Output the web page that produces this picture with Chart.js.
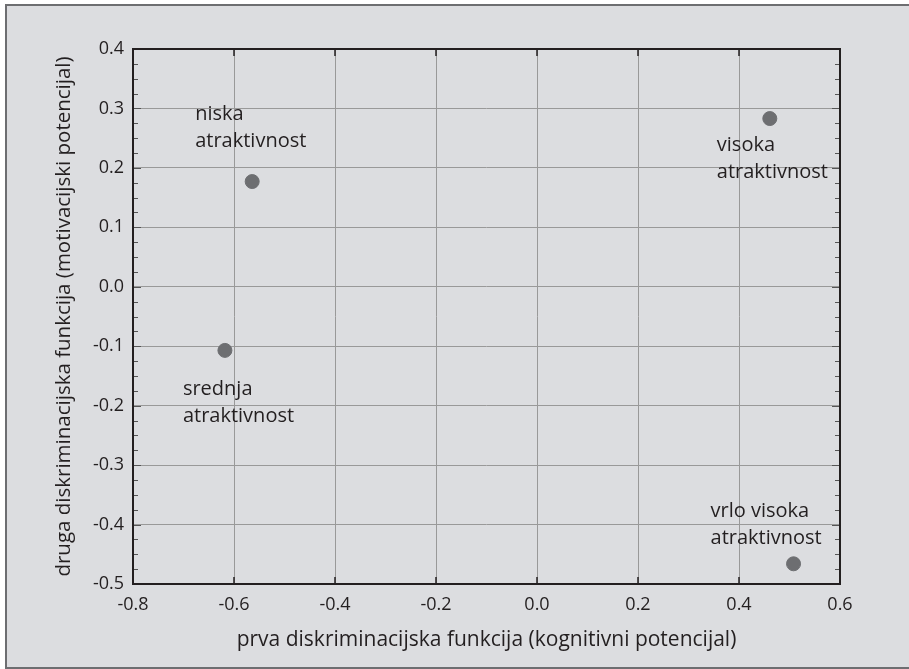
<!DOCTYPE html>
<html>
<head>
<meta charset="utf-8">
<script src="https://cdn.jsdelivr.net/npm/chart.js@4.4.1/dist/chart.umd.min.js"></script>
<style>
    html, body { margin: 0; background: #fff; overflow: hidden; }
    #clip { position: absolute; left: 0; top: 0; width: 909px; height: 669px; overflow: hidden; }
    #box { position: absolute; left: 5px; top: 4px; width: 1000px; height: 661px; border: 2px solid #6d6e71; background: #dcdde0; }
    #wrap { position: absolute; left: 0; top: 0; width: 909px; height: 669px; }
</style>
</head>
<body>
<div id="clip">
<div id="box"></div>
<div id="wrap"><canvas id="chart"></canvas></div>
</div>
<script>
var groups = [["niska", "atraktivnost"], ["visoka", "atraktivnost"], ["srednja", "atraktivnost"], ["vrlo visoka", "atraktivnost"]];
var xValues = [-0.564, 0.461, -0.618, 0.508];
var yValues = [0.177, 0.283, -0.107, -0.466];
var xTicks = [-0.8, -0.6, -0.4, -0.2, 0.0, 0.2, 0.4, 0.6];
var yTicks = [-0.5, -0.4, -0.3, -0.2, -0.1, 0.0, 0.1, 0.2, 0.3, 0.4];

var fontName = "'Open Sans', 'Noto Sans', sans-serif";
var textColor = '#231f20';

// label offsets from the point: [dx, baseline of first line]
var labelOffsets = [[-57, -62], [-53, 32], [-42, 45], [-83, -47]];

var frame = {
    id: 'frame',
    beforeDatasetsDraw: function (chart) {
        var ctx = chart.ctx;
        var a = chart.chartArea;
        var xs = chart.scales.x;
        var ys = chart.scales.y;
        ctx.save();
        ctx.strokeStyle = '#555';
        ctx.lineWidth = 1;
        // minor ticks on left/right
        for (var i = 0; i <= 36; i++) {
            var v = yTicks[0] + i * 0.025;
            var py = Math.round(ys.getPixelForValue(v)) + 0.5;
            var len = (i % 4 === 0) ? 8 : 5;
            ctx.beginPath();
            ctx.moveTo(a.left, py); ctx.lineTo(a.left + len, py);
            ctx.moveTo(a.right, py); ctx.lineTo(a.right - len, py);
            ctx.stroke();
        }
        ctx.strokeStyle = '#231f20';
        ctx.lineWidth = 1.5;
        xTicks.forEach(function (v) {
            var px = xs.getPixelForValue(v);
            ctx.beginPath();
            ctx.moveTo(px, a.top); ctx.lineTo(px, a.top + 7);
            ctx.moveTo(px, a.bottom); ctx.lineTo(px, a.bottom - 7);
            ctx.stroke();
        });
        ctx.lineWidth = 2;
        ctx.strokeRect(a.left, a.top, a.right - a.left, a.bottom - a.top);
        ctx.restore();
    }
};

var pointLabels = {
    id: 'pointLabels',
    afterDatasetsDraw: function (chart) {
        var ctx = chart.ctx;
        var meta = chart.getDatasetMeta(0);
        ctx.save();
        ctx.fillStyle = textColor;
        ctx.font = "20px " + fontName;
        ctx.textAlign = 'left';
        ctx.textBaseline = 'alphabetic';
        meta.data.forEach(function (pt, i) {
            var off = labelOffsets[i];
            groups[i].forEach(function (line, j) {
                ctx.fillText(line, pt.x + off[0], pt.y + off[1] + j * 27);
            });
        });
        ctx.restore();
    }
};

var points = xValues.map(function (x, i) { return { x: x, y: yValues[i] }; });

new Chart(document.getElementById('chart'), {
    type: 'scatter',
    data: {
        datasets: [{
            data: points,
            backgroundColor: '#6d6e71',
            borderColor: '#6d6e71',
            pointRadius: 7,
            pointHoverRadius: 7
        }]
    },
    options: {
        responsive: true,
        maintainAspectRatio: false,
        animation: false,
        layout: { padding: { left: 0, top: 49, right: 69, bottom: 0 } },
        plugins: { legend: { display: false }, tooltip: { enabled: false } },
        scales: {
            x: {
                type: 'linear',
                min: -0.8,
                max: 0.6,
                afterBuildTicks: function (scale) { scale.ticks = xTicks.map(function (v) { return { value: v }; }); },
                afterFit: function (scale) { scale.height = 85; },
                grid: { color: '#999', lineWidth: 1, drawTicks: false },
                border: { display: false },
                ticks: {
                    padding: 10,
                    color: textColor,
                    font: { family: fontName, size: 18 },
                    callback: function (v) { return v.toFixed(1); }
                },
                title: {
                    display: true,
                    text: 'prva diskriminacijska funkcija (kognitivni potencijal)',
                    color: textColor,
                    font: { family: fontName, size: 21 },
                    padding: { top: 0, bottom: 16 }
                }
            },
            y: {
                type: 'linear',
                min: -0.5,
                max: 0.4,
                afterBuildTicks: function (scale) { scale.ticks = yTicks.map(function (v) { return { value: v }; }); },
                afterFit: function (scale) { scale.width = 133; },
                grid: { color: '#999', lineWidth: 1, drawTicks: false },
                border: { display: false },
                ticks: {
                    padding: 9,
                    color: textColor,
                    font: { family: fontName, size: 18 },
                    callback: function (v) { return v.toFixed(1); }
                },
                title: {
                    display: true,
                    text: 'druga diskriminacijska funkcija (motivacijski potencijal)',
                    color: textColor,
                    font: { family: fontName, size: 20.5 },
                    padding: { top: 52, bottom: 0 }
                }
            }
        }
    },
    plugins: [frame, pointLabels]
});
</script>
</body>
</html>
